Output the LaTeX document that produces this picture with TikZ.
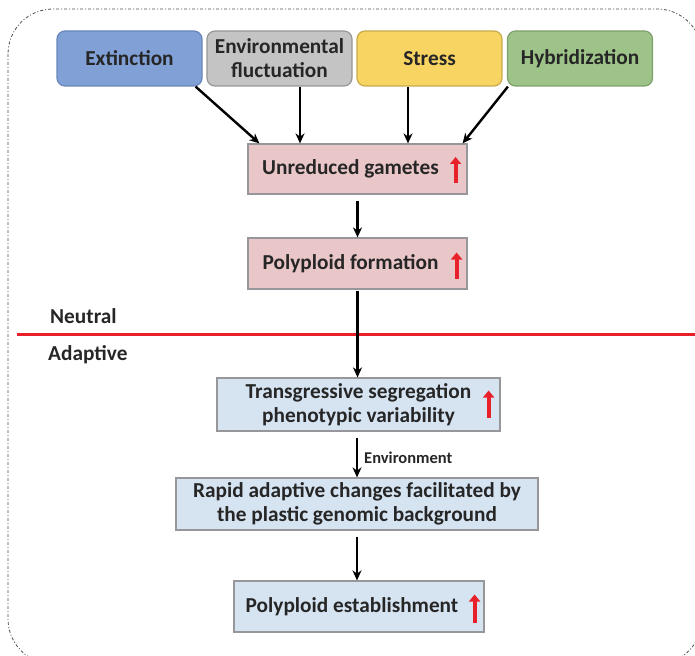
\documentclass[tikz,border=0pt]{standalone}
\usepackage{fontspec}
\setmainfont{Carlito}
\usetikzlibrary{arrows.meta,calc}

\definecolor{txtdark}{RGB}{38,38,38}
\definecolor{extfill}{RGB}{128,160,214}
\definecolor{extline}{RGB}{104,134,186}
\definecolor{envfill}{RGB}{196,196,196}
\definecolor{envline}{RGB}{150,150,150}
\definecolor{strfill}{RGB}{248,212,98}
\definecolor{strline}{RGB}{200,170,74}
\definecolor{hybfill}{RGB}{157,195,136}
\definecolor{hybline}{RGB}{126,160,108}
\definecolor{pinkfill}{RGB}{233,198,200}
\definecolor{bluefill}{RGB}{214,228,242}
\definecolor{boxline}{RGB}{150,150,155}
\definecolor{markred}{RGB}{232,32,42}

\newcommand{\boxfont}{\fontsize{21.3}{24}\selectfont\bfseries}

\begin{document}
\begin{tikzpicture}[x=1pt,y=-1pt,
    cause/.style={draw, line width=1.2pt, rounded corners=8pt, minimum width=145pt,
      minimum height=55pt, inner sep=2pt, align=center, text=txtdark, font=\boxfont},
    stagebox/.style={draw=boxline, line width=1.2pt, inner sep=2pt, align=center,
      text=txtdark, font=\boxfont},
    label/.style={anchor=west, inner sep=0pt, text=txtdark, font=\boxfont},
    flow/.style={line width=2.4pt, -{Stealth[length=10pt,width=9pt]}},
    upmark/.style={draw=markred, line width=4pt, -{Triangle[length=7pt,width=11pt]}}]
  \useasboundingbox (0,0) rectangle (695,655);

  %Shape: outer frame
  \draw [dash pattern={on 3pt off 2pt on 1pt off 2pt}, line width=0.8pt, black!70, rounded corners=45pt]
    (8,9) rectangle (702,664);

  % causes
  \node [cause, fill=extfill, draw=extline] (ext) at (129.5,58.5) {Extinction};
  \node [cause, fill=envfill, draw=envline] (env) at (279.5,58.5) {Environmental\\fluctuation};
  \node [cause, fill=strfill, draw=strline] (str) at (429.5,58.5) {Stress};
  \node [cause, fill=hybfill, draw=hybline] (hyb) at (580,58.5) {Hybridization};

  % neutral stages
  \node [stagebox, fill=pinkfill, minimum width=219pt, minimum height=50pt] (ug) at (357.5,169) {Unreduced gametes\hspace{14pt}};
  \node [stagebox, fill=pinkfill, minimum width=219pt, minimum height=51pt] (pf) at (357.5,263.5) {Polyploid formation\hspace{14pt}};

  % divider
  \node [label] (neutral) at (50,316) {Neutral};
  \node [label] (adaptive) at (48,355) {Adaptive};
  \draw [markred, line width=3pt] (17,334) -- (695,334);

  % adaptive stages
  \node [stagebox, fill=bluefill, minimum width=283pt, minimum height=53pt] (ts) at (358.5,404.5) {Transgressive segregation\\phenotypic variability};
  \node [stagebox, fill=bluefill, minimum width=362pt, minimum height=52pt] (ra) at (357,504) {Rapid adaptive changes facilitated by\\the plastic genomic background};
  \node [stagebox, fill=bluefill, minimum width=250pt, minimum height=51pt] (pe) at (359,606.5) {Polyploid establishment\hspace{14pt}};

  % connectors
  \draw [flow] ([xshift=-7pt]ext.south east) -- ([xshift=12pt]ug.north west);
  \draw [flow] ([xshift=20.5pt]env.south) -- ([xshift=20.5pt]env.south |- ug.north);
  \draw [flow] ([xshift=-21.5pt]str.south) -- ([xshift=-21.5pt]str.south |- ug.north);
  \draw [flow] ([xshift=1pt]hyb.south west) -- ([xshift=-5pt]ug.north east);
  \draw [flow] ([yshift=-6pt]ug.south) -- (pf.north);
  \draw [flow] ([yshift=-1pt]pf.south) -- (pf.south |- ts.north);
  \draw [flow] ([yshift=-6pt]ts.south -| ra.north) -- node [right=6pt, inner sep=0pt, text=txtdark,
    font=\fontsize{16.5}{18}\selectfont\bfseries] (envlabel) {Environment} (ra.north);
  \draw [flow] ([yshift=-6pt]ra.south) -- (pe.north -| ra.south);

  % red marks
  \draw [upmark] ([xshift=-12pt,yshift=-14pt]ug.east) -- ([xshift=-12pt,yshift=12pt]ug.east);
  \draw [upmark] ([xshift=-11pt,yshift=-15pt]pf.east) -- ([xshift=-11pt,yshift=11pt]pf.east);
  \draw [upmark] ([xshift=-12pt,yshift=-13pt]ts.east) -- ([xshift=-12pt,yshift=14pt]ts.east);
  \draw [upmark] ([xshift=-10pt,yshift=-16pt]pe.east) -- ([xshift=-10pt,yshift=12pt]pe.east);
\end{tikzpicture}
\end{document}
